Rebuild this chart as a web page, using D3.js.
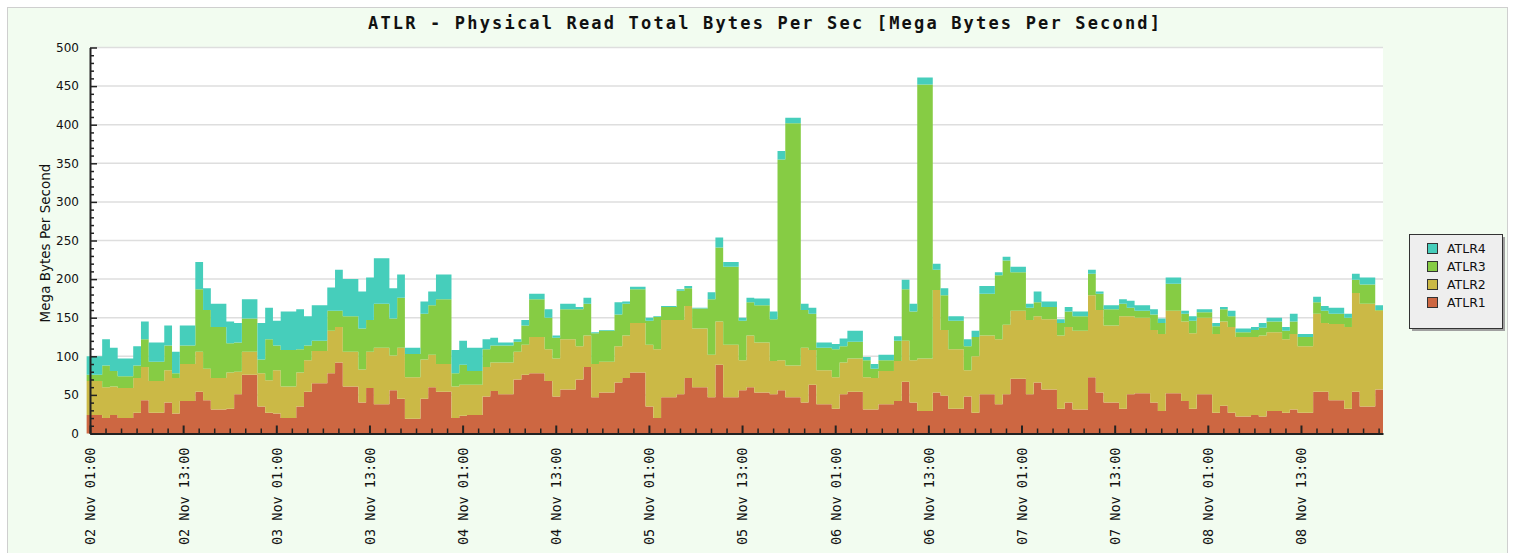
<!DOCTYPE html>
<html>
<head>
<meta charset="utf-8">
<script src="https://cdn.jsdelivr.net/npm/d3@7"></script>
<style>
  body { margin: 0; background: #fff; }
  text { fill: #111; }
</style>
</head>
<body>
<script>
// hourly samples, first one at 02 Nov 00:34
const seriesNames = ["ATLR1", "ATLR2", "ATLR3", "ATLR4"];
const seriesColors = ["#cd6742", "#cbb946", "#86cc44", "#46cebb"];

const atlr1 = [
  24,24,20,24,20,20,27,43,27,27,40,26,42,42,54,43,31,31,32,51,76,76,
  35,27,26,20,20,35,54,65,65,78,92,61,61,40,59,38,38,56,45,19,19,
  45,60,54,54,20,23,24,24,48,55,51,51,70,76,78,78,68,48,57,57,70,
  86,47,53,53,66,72,79,79,35,20,47,47,51,72,60,60,47,89,47,47,56,
  60,53,53,51,56,47,47,40,63,38,38,32,51,54,54,31,31,38,38,42,67,
  40,29,29,53,49,32,32,48,27,51,51,38,51,71,71,51,66,57,57,32,40,31,31,
  73,53,40,40,32,51,52,52,40,29,52,52,42,32,51,51,27,36,27,22,22,
  24,22,29,29,27,31,27,27,54,54,43,43,32,54,35,35,57
];
const atlr2 = [
  44,44,40,37,39,39,45,43,41,41,42,46,48,48,52,41,41,41,47,29,30,30,
  43,42,56,41,41,44,41,42,42,55,46,45,45,43,47,73,73,45,66,54,54,
  51,42,36,36,41,40,39,39,38,37,41,41,36,39,47,47,41,49,65,65,43,
  41,43,40,40,47,55,64,64,80,89,100,100,96,93,76,76,55,56,68,68,39,
  67,65,65,43,39,41,41,71,45,44,44,41,41,43,43,42,41,43,43,52,53,
  55,68,68,133,85,77,77,34,73,76,76,84,90,88,88,96,86,91,91,95,98,102,102,
  106,107,100,100,120,101,98,98,94,100,107,107,103,98,99,99,102,109,111,103,103,
  101,105,102,102,95,98,86,86,101,89,99,99,106,128,133,133,102
];
const atlr3 = [
  8,8,28,20,15,15,16,36,25,25,32,6,24,24,81,76,66,66,38,38,43,43,
  18,53,32,47,47,30,19,13,13,26,21,46,46,53,41,57,57,48,65,30,30,
  59,64,84,84,17,26,18,18,23,22,22,22,13,25,49,49,41,27,39,39,48,
  41,40,40,40,41,41,44,44,31,42,17,17,38,23,26,26,72,96,101,101,51,
  43,48,48,54,260,314,314,49,47,29,29,36,21,22,22,22,12,14,14,26,67,
  63,355,355,26,45,37,37,31,25,54,54,83,83,50,50,16,18,16,16,16,20,19,19,
  28,21,21,21,16,11,9,9,20,14,35,35,10,16,7,7,10,16,14,6,6,
  9,10,14,14,11,16,12,12,15,16,13,13,12,17,25,25,1
];
const atlr4 = [
  24,24,34,30,23,23,25,23,25,25,26,28,26,26,35,28,30,30,28,25,25,25,
  47,41,32,50,50,52,38,46,46,30,53,48,48,48,55,59,59,39,30,8,8,
  16,18,32,32,30,31,30,30,13,10,4,4,3,7,7,7,11,3,7,7,3,
  8,1,1,1,16,3,3,3,4,1,1,1,2,3,1,1,9,13,6,6,4,
  6,9,9,10,11,7,7,8,8,7,7,7,10,14,14,4,6,7,7,6,12,
  10,9,9,8,9,6,6,9,8,10,10,4,5,7,7,5,14,7,7,5,6,6,6,
  5,3,5,5,6,9,7,7,7,6,8,8,4,6,4,4,4,3,7,5,5,
  4,6,5,5,5,10,4,4,7,6,8,8,5,8,9,9,6
];
const yTicks = [0, 50, 100, 150, 200, 250, 300, 350, 400, 450, 500];

const W = 1515, H = 553;
const plotLeft = 90, plotRight = 1383, plotTop = 47.5, plotBottom = 433.5;
const HOUR = 3600 * 1000;

const firstSample = new Date(2023, 10, 2, 0, 34);
const axisStart = new Date(2023, 10, 2, 1, 0);
const axisEnd = new Date(firstSample.getTime() + atlr1.length * HOUR);

const rows = atlr1.map((v, i) => ({
  t: new Date(firstSample.getTime() + i * HOUR),
  ATLR1: v, ATLR2: atlr2[i], ATLR3: atlr3[i], ATLR4: atlr4[i]
}));
// closing point so the last step has its width
rows.push(Object.assign({}, rows[rows.length - 1], { t: axisEnd }));

const x = d3.scaleTime().domain([axisStart, axisEnd]).range([plotLeft, plotRight]);
const y = d3.scaleLinear().domain([0, 500]).range([plotBottom, plotTop]);

const svg = d3.select("body").append("svg")
  .attr("width", W).attr("height", H);

// page frame
svg.append("rect")
  .attr("x", 7.5).attr("y", 7.5).attr("width", 1500).attr("height", 600)
  .attr("fill", "#f2fcf0").attr("stroke", "#cfcfcf");

svg.append("rect")
  .attr("x", plotLeft).attr("y", plotTop)
  .attr("width", plotRight - plotLeft).attr("height", plotBottom - plotTop)
  .attr("fill", "#fff");

svg.append("g").selectAll("line")
  .data(yTicks.filter(d => d > 0))
  .enter().append("line")
  .attr("x1", plotLeft).attr("x2", plotRight)
  .attr("y1", d => y(d)).attr("y2", d => y(d))
  .attr("stroke", "#dedede").attr("stroke-width", 1.5);

const stack = d3.stack().keys(seriesNames);
const layers = stack(rows);

const area = d3.area()
  .curve(d3.curveStepAfter)
  .x(d => x(d.data.t))
  .y0(d => y(d[0]))
  .y1(d => y(d[1]));

svg.append("g").selectAll("path")
  .data(layers)
  .enter().append("path")
  .attr("d", area)
  .attr("fill", (d, i) => seriesColors[i]);

// x axis
const majorTicks = [], minorTicks = [];
for (let k = 0; axisStart.getTime() + k * 2 * HOUR <= axisEnd.getTime(); k++) {
  const t = new Date(axisStart.getTime() + k * 2 * HOUR);
  if (k % 6 === 0) majorTicks.push(t); else minorTicks.push(t);
}
const fmt = d3.timeFormat("%d %b %H:%M");

svg.append("g")
  .attr("transform", "translate(0," + plotBottom + ")")
  .call(d3.axisBottom(x).tickValues(minorTicks).tickSize(-5).tickSizeOuter(0).tickFormat(""))
  .call(g => g.select(".domain").remove())
  .selectAll("line").attr("stroke", "#222").attr("stroke-width", 1.5);

const xg = svg.append("g")
  .attr("transform", "translate(0," + plotBottom + ")")
  .call(d3.axisBottom(x).tickValues(majorTicks).tickSize(-8).tickSizeOuter(0).tickFormat(fmt));
xg.select(".domain").attr("stroke", "#222").attr("stroke-width", 2);
xg.selectAll("line").attr("stroke", "#222").attr("stroke-width", 2);
xg.selectAll("text")
  .attr("transform", "rotate(-90)")
  .attr("x", -14).attr("y", 0).attr("dy", "0.36em")
  .attr("text-anchor", "end")
  .style("font-family", "'DejaVu Sans Mono', monospace")
  .style("font-size", "13.5px")
  .attr("fill", "#111");

// y axis
const minorY = d3.range(10, 500, 10).filter(v => v % 50 !== 0);
svg.append("g")
  .attr("transform", "translate(" + plotLeft + ",0)")
  .call(d3.axisLeft(y).tickValues(minorY).tickSize(-4).tickSizeOuter(0).tickFormat(""))
  .call(g => g.select(".domain").remove())
  .selectAll("line").attr("stroke", "#222").attr("stroke-width", 1.5);

const yg = svg.append("g")
  .attr("transform", "translate(" + plotLeft + ",0)")
  .call(d3.axisLeft(y).tickValues(yTicks).tickSize(-7).tickSizeOuter(0).tickPadding(11));
yg.select(".domain").attr("stroke", "#222").attr("stroke-width", 2);
yg.selectAll("line").attr("stroke", "#222").attr("stroke-width", 1.5);
yg.selectAll("text")
  .style("font-family", "'DejaVu Sans', sans-serif")
  .style("font-size", "12px")
  .attr("fill", "#111");

svg.append("text")
  .attr("transform", "translate(50,243) rotate(-90)")
  .attr("text-anchor", "middle")
  .style("font-family", "'DejaVu Sans', sans-serif")
  .style("font-size", "13.5px")
  .text("Mega Bytes Per Second");

// title
svg.append("text")
  .attr("x", 368).attr("y", 29)
  .attr("textLength", 792).attr("lengthAdjust", "spacing")
  .style("font-family", "'DejaVu Sans Mono', monospace")
  .style("font-size", "17px")
  .style("font-weight", "bold")
  .text("ATLR - Physical Read Total Bytes Per Sec [Mega Bytes Per Second]");

// legend
const lg = svg.append("g").attr("transform", "translate(1409,234)");
lg.append("rect").attr("x", 3).attr("y", 3).attr("width", 93).attr("height", 94).attr("fill", "#a0a0a0");
lg.append("rect").attr("x", 0.5).attr("y", 0.5).attr("width", 93).attr("height", 94)
  .attr("fill", "#eeeeee").attr("stroke", "#333");
const legendOrder = seriesNames.slice().reverse();
legendOrder.forEach((name, i) => {
  const row = lg.append("g").attr("transform", "translate(18," + (14 + i * 18) + ")");
  row.append("rect").attr("x", 0.5).attr("y", -4.5).attr("width", 10).attr("height", 10)
    .attr("fill", seriesColors[seriesNames.indexOf(name)]).attr("stroke", "#333");
  row.append("text").attr("x", 20).attr("y", 0.5).attr("dy", "0.35em")
    .style("font-family", "'DejaVu Sans', sans-serif")
    .style("font-size", "12.5px")
    .text(name);
});
</script>
</body>
</html>
